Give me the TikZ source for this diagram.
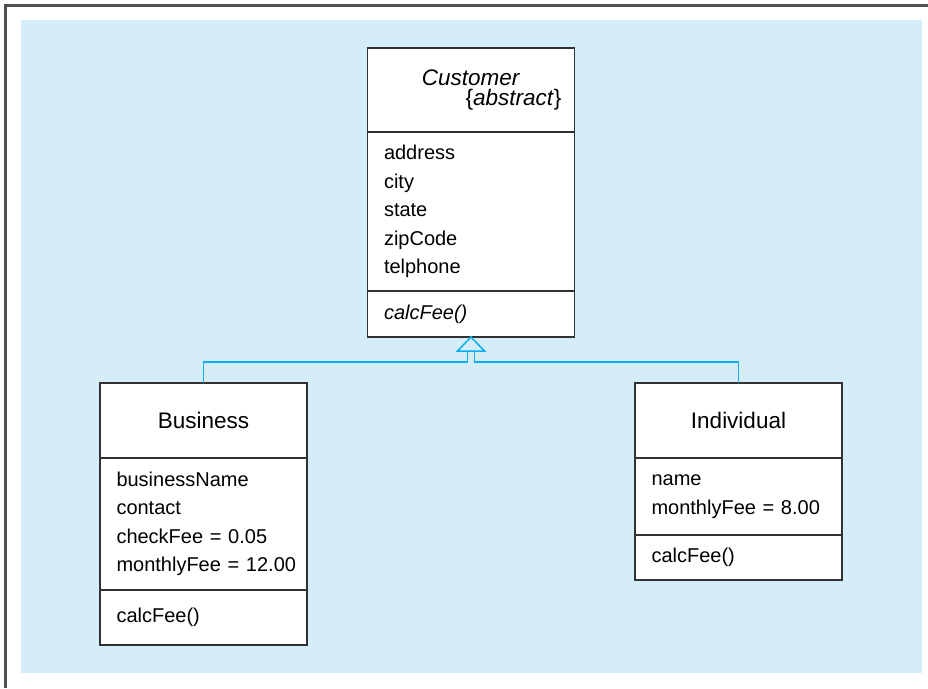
\documentclass[tikz,border=0pt]{standalone}
\usepackage{fontspec}
\setmainfont{Liberation Sans}
\usetikzlibrary{positioning}
\definecolor{panelblue}{RGB}{213,236,249}
\definecolor{linkcyan}{RGB}{10,176,238}
\definecolor{boxgray}{RGB}{50,50,50}
\definecolor{framegray}{RGB}{80,80,80}
\newcommand\umlheadfont{\fontsize{22.5}{20.5}\selectfont}
\newcommand\umlbodyfont{\fontsize{20}{28.5}\selectfont}
\tikzset{
  umlpart/.style={draw=boxgray,fill=white,line width=1.3pt,outer sep=0pt,inner xsep=16.5pt,inner ysep=0pt,
    text width=174pt,minimum height=#1,align=left,font=\umlbodyfont},
  umlhead/.style={umlpart=#1,align=center,font=\umlheadfont},
  generalize/.style={draw=linkcyan,line width=1.5pt}
}

\begin{document}
\begin{tikzpicture}[x=1pt,y=-1pt]
  \useasboundingbox (0,0) rectangle (928,688);
  \fill[panelblue] (21,20) rectangle (922,673);
  \fill[framegray] (4.3,4.3) rectangle (928,6.7);
  \fill[framegray] (4.3,4.3) rectangle (6.7,688);

  \node[umlhead=84pt] (customer-head) at (471,90)
    {\textit{Customer}\\\hspace*{0pt plus 1fill}\mbox{\{\textit{abstract}\}\kern-3.5pt}};
  \node[umlpart=159pt,below=0pt of customer-head] (customer-attr)
    {address\\city\\state\\zipCode\\telphone};
  \node[umlpart=46pt,below=0pt of customer-attr] (customer-ops) {\textit{calcFee()}};

  \node[umlhead=75pt] (business-head) at (203.5,420.5) {Business};
  \node[umlpart=132pt,below=0pt of business-head] (business-attr)
    {businessName\\contact\\checkFee~=~0.05\\monthlyFee~=~12.00};
  \node[umlpart=55pt,below=0pt of business-attr] (business-ops) {calcFee()};

  \node[umlhead=75pt] (individual-head) at (738.5,420.5) {Individual};
  \node[umlpart=77pt,below=0pt of individual-head] (individual-attr)
    {name\\monthlyFee~=~8.00};
  \node[umlpart=45pt,below=0pt of individual-attr] (individual-ops) {calcFee()};

  \coordinate (fork) at ([yshift=-25pt]customer-ops.south);
  \coordinate (tribase) at ([yshift=-14pt]customer-ops.south);
  \draw[generalize] (business-head.north) |- ([xshift=-3.5pt]fork) -- ([xshift=-3.5pt]tribase);
  \draw[generalize] (individual-head.north) |- ([xshift=3.5pt]fork) -- ([xshift=3.5pt]tribase);
  \draw[generalize,fill=panelblue] (customer-ops.south) -- ([xshift=-13.5pt]tribase)
    -- ([xshift=13.5pt]tribase) -- cycle;
\end{tikzpicture}
\end{document}
